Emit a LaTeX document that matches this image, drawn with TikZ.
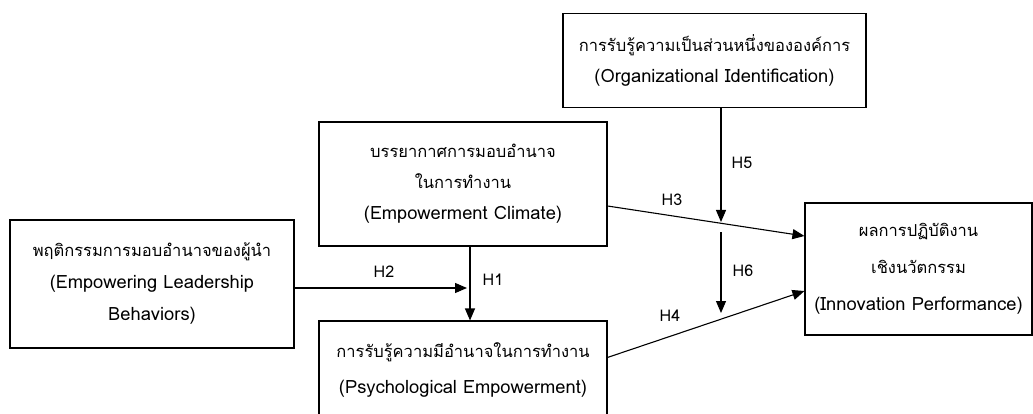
\documentclass[tikz,border=0pt]{standalone}
\usepackage{fontspec}
\setmainfont[Script=Thai]{Loma}
\newfontfamily\latfont[Scale=1.11]{Loma}
\usetikzlibrary{arrows.meta,calc}
\begin{document}
\begin{tikzpicture}[x=1pt,y=-1pt,
  box/.style={draw,line width=1.1pt,align=center,inner sep=0pt,
    font=\fontsize{16.5}{31}\selectfont},
  arr/.style={line width=1.1pt,-{Triangle[length=12pt,width=10pt]}},
  lab/.style={font=\fontsize{14.5}{16}\selectfont\latfont,inner sep=0pt}]
\useasboundingbox (0,0) rectangle (1033,414);
% boxes
\node[box,minimum width=303pt,minimum height=94pt] (A) at (714.5,60.5)
  {การรับรู้ความเป็นส่วนหนึ่งขององค์การ\\{\latfont (Organizational Identification)}};
\node[box,minimum width=288pt,minimum height=124pt] (B) at (463,184)
  {บรรยากาศการมอบอำนาจ\\ในการทำงาน\\{\latfont (Empowerment Climate)}};
\node[box,minimum width=284pt,minimum height=128pt,
  font=\fontsize{16.5}{32}\selectfont] (C) at (152,284)
  {พฤติกรรมการมอบอำนาจของผู้นำ\\{\latfont (Empowering Leadership}\\{\latfont Behaviors)}};
\node[box,minimum width=288pt,minimum height=99pt,
  font=\fontsize{16.5}{36}\selectfont] (D) at (463,370.5)
  {การรับรู้ความมีอำนาจในการทำงาน\\{\latfont (Psychological Empowerment)}};
\node[box,minimum width=227pt,minimum height=132pt,
  font=\fontsize{16.5}{37}\selectfont] (E) at (918.5,269)
  {ผลการปฏิบัติงาน\\เชิงนวัตกรรม\\{\latfont (Innovation Performance)}};
% helper coordinates
\coordinate (x470) at (470,0);
\coordinate (x721) at (721,0);
\coordinate (h2end) at (467,288);
\coordinate (h5end) at (721,222);
\coordinate (h6start) at (721,232);
\coordinate (h6end) at (721,313);
% connectors
\draw[arr] (B.south -| x470) -- (D.north -| x470);
\draw[arr] (C.east |- h2end) -- (h2end);
\draw[arr] ($(B.east)+(0,22)$) -- ($(E.west)+(0,-33)$);
\draw[arr] ($(D.north east)+(0,37)$) -- ($(E.west)+(0,22)$);
\draw[arr] (A.south -| x721) -- (h5end);
\draw[arr] (h6start) -- (h6end);
% labels
\node[lab] (l1) at (493,280) {H1};
\node[lab] (l2) at (384,272) {H2};
\node[lab] (l3) at (672,200) {H3};
\node[lab] (l4) at (670,316) {H4};
\node[lab] (l5) at (742,163) {H5};
\node[lab] (l6) at (743,271) {H6};
\end{tikzpicture}
\end{document}
